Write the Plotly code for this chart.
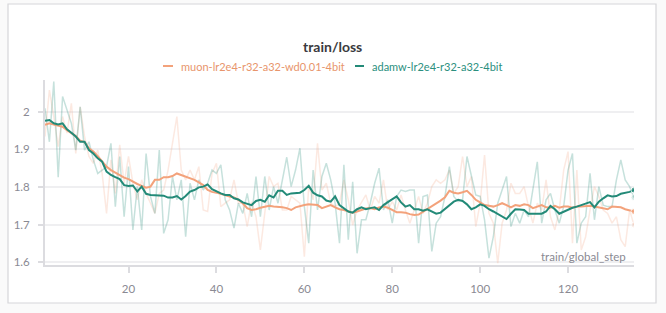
import plotly.graph_objects as go

steps = list(range(1, 136))

muon_raw = [1.934, 2.057, 1.987, 1.907, 1.987, 1.943, 2.022, 1.889, 2.013, 1.934,
            1.881, 1.863, 1.898, 1.836, 1.730, 1.872, 1.783, 1.912, 1.810, 1.881,
            1.810, 1.766, 1.819, 1.783, 1.757, 1.730, 1.783, 1.792, 1.845, 1.916,
            1.987, 1.845, 1.819, 1.845, 1.819, 1.854, 1.739, 1.735, 1.836, 1.863,
            1.748, 1.757, 1.766, 1.819, 1.757, 1.757, 1.695, 1.761, 1.721, 1.633,
            1.730, 1.828, 1.801, 1.810, 1.739, 1.739, 1.775, 1.766, 1.757, 1.615,
            1.801, 1.766, 1.916, 1.792, 1.810, 1.757, 1.748, 1.757, 1.819, 1.766,
            1.699, 1.739, 1.761, 1.779, 1.739, 1.775, 1.757, 1.819, 1.739, 1.761,
            1.739, 1.779, 1.739, 1.704, 1.739, 1.775, 1.730, 1.757, 1.801, 1.819,
            1.810, 1.819, 1.845, 1.783, 1.801, 1.881, 1.801, 1.828, 1.695, 1.757,
            1.885, 1.730, 1.704, 1.598, 1.704, 1.739, 1.810, 1.783, 1.783, 1.801,
            1.748, 1.704, 1.757, 1.739, 1.819, 1.721, 1.686, 1.739, 1.845, 1.894,
            1.651, 1.845, 1.633, 1.668, 1.739, 1.801, 1.775, 1.739, 1.730, 1.704,
            1.721, 1.660, 1.642, 1.739, 1.699]

adamw_raw = [2.009, 1.920, 2.080, 1.826, 2.040, 2.004, 1.969, 1.898, 2.013, 1.898,
             1.920, 1.872, 1.836, 1.845, 1.854, 1.916, 1.748, 1.881, 1.721, 1.854,
             1.686, 1.801, 1.686, 1.889, 1.775, 1.730, 1.898, 1.677, 1.713, 1.828,
             1.766, 1.819, 1.668, 1.810, 1.766, 1.819, 1.792, 1.810, 1.845, 1.836,
             1.859, 1.766, 1.739, 1.691, 1.757, 1.730, 1.783, 1.721, 1.828, 1.721,
             1.828, 1.739, 1.801, 1.757, 1.819, 1.879, 1.801, 1.845, 1.903, 1.748,
             1.651, 1.845, 1.739, 1.828, 1.863, 1.819, 1.757, 1.651, 1.859, 1.660,
             1.814, 1.624, 1.713, 1.713, 1.757, 1.810, 1.850, 1.739, 1.766, 1.704,
             1.775, 1.792, 1.788, 1.792, 1.792, 1.651, 1.775, 1.779, 1.629, 1.704,
             1.721, 1.775, 1.854, 1.775, 1.761, 1.766, 1.881, 1.828, 1.779, 1.775,
             1.713, 1.611, 1.668, 1.757, 1.792, 1.828, 1.695, 1.730, 1.704, 1.739,
             1.721, 1.792, 1.867, 1.704, 1.766, 1.783, 1.739, 1.704, 1.748, 1.845,
             1.889, 1.651, 1.704, 1.721, 1.836, 1.713, 1.801, 1.752, 1.748, 1.748,
             1.819, 1.872, 1.819, 1.801, 1.772]

muon_smooth = [1.965, 1.969, 1.966, 1.962, 1.960, 1.951, 1.943, 1.935, 1.923, 1.919,
               1.903, 1.894, 1.882, 1.867, 1.854, 1.845, 1.838, 1.832, 1.825, 1.821,
               1.814, 1.808, 1.803, 1.798, 1.801, 1.819, 1.819, 1.826, 1.826, 1.829,
               1.836, 1.832, 1.828, 1.823, 1.819, 1.812, 1.805, 1.792, 1.787, 1.785,
               1.781, 1.779, 1.775, 1.772, 1.766, 1.757, 1.744, 1.739, 1.741, 1.745,
               1.748, 1.750, 1.748, 1.748, 1.746, 1.744, 1.739, 1.746, 1.750, 1.752,
               1.754, 1.754, 1.752, 1.744, 1.748, 1.752, 1.746, 1.741, 1.739, 1.735,
               1.732, 1.735, 1.739, 1.743, 1.744, 1.741, 1.746, 1.748, 1.745, 1.739,
               1.733, 1.733, 1.732, 1.728, 1.726, 1.727, 1.734, 1.741, 1.748, 1.755,
               1.764, 1.773, 1.790, 1.785, 1.783, 1.786, 1.790, 1.779, 1.766, 1.759,
               1.752, 1.750, 1.748, 1.752, 1.757, 1.752, 1.746, 1.752, 1.750, 1.754,
               1.752, 1.744, 1.748, 1.752, 1.746, 1.745, 1.750, 1.745, 1.748, 1.748,
               1.745, 1.748, 1.748, 1.750, 1.750, 1.748, 1.746, 1.743, 1.741, 1.748,
               1.748, 1.746, 1.741, 1.739, 1.735]

adamw_smooth = [1.976, 1.978, 1.969, 1.966, 1.969, 1.953, 1.944, 1.934, 1.920, 1.920,
                1.898, 1.889, 1.876, 1.867, 1.841, 1.832, 1.826, 1.821, 1.805, 1.803,
                1.804, 1.788, 1.801, 1.782, 1.779, 1.778, 1.778, 1.777, 1.772, 1.772,
                1.776, 1.767, 1.776, 1.788, 1.792, 1.799, 1.801, 1.807, 1.794, 1.788,
                1.783, 1.779, 1.779, 1.770, 1.767, 1.759, 1.755, 1.752, 1.763, 1.766,
                1.761, 1.778, 1.772, 1.790, 1.790, 1.779, 1.783, 1.785, 1.785, 1.792,
                1.803, 1.785, 1.778, 1.775, 1.764, 1.761, 1.775, 1.752, 1.744, 1.735,
                1.732, 1.741, 1.746, 1.741, 1.744, 1.746, 1.739, 1.752, 1.760, 1.768,
                1.775, 1.759, 1.748, 1.752, 1.741, 1.741, 1.737, 1.741, 1.735, 1.729,
                1.732, 1.741, 1.752, 1.761, 1.766, 1.763, 1.754, 1.741, 1.746, 1.754,
                1.750, 1.741, 1.735, 1.729, 1.721, 1.715, 1.729, 1.741, 1.740, 1.739,
                1.729, 1.728, 1.729, 1.729, 1.735, 1.750, 1.741, 1.729, 1.735, 1.741,
                1.745, 1.748, 1.752, 1.757, 1.760, 1.746, 1.761, 1.770, 1.778, 1.775,
                1.776, 1.782, 1.784, 1.787, 1.792]

series_names = ["muon-lr2e4-r32-a32-wd0.01-4bit", "adamw-lr2e4-r32-a32-4bit"]
x_ticks = [20, 40, 60, 80, 100, 120]
y_ticks = [1.6, 1.7, 1.8, 1.9, 2.0]
y_tick_text = ["1.6", "1.7", "1.8", "1.9", "2"]

ORANGE = "#f3a27b"
ORANGE_FAINT = "rgba(245,170,140,0.26)"
TEAL = "#238a78"
TEAL_FAINT = "rgba(35,138,120,0.26)"
FONT = "Lato, 'Source Sans Pro', 'Noto Sans', sans-serif"

fig = go.Figure()
fig.add_trace(go.Scatter(x=steps, y=muon_raw, mode="lines+markers",
                         line=dict(color=ORANGE_FAINT, width=1.5),
                         marker=dict(size=[0]*(len(steps)-1)+[6], color=ORANGE_FAINT),
                         showlegend=False, hoverinfo="skip"))
fig.add_trace(go.Scatter(x=steps, y=adamw_raw, mode="lines+markers",
                         line=dict(color=TEAL_FAINT, width=1.5),
                         marker=dict(size=[0]*(len(steps)-1)+[6], color=TEAL_FAINT),
                         showlegend=False, hoverinfo="skip"))
fig.add_trace(go.Scatter(x=steps, y=muon_smooth, mode="lines+markers", name=series_names[0],
                         line=dict(color=ORANGE, width=2),
                         marker=dict(size=[0]*(len(steps)-1)+[6], color=ORANGE),
                         showlegend=False))
fig.add_trace(go.Scatter(x=steps, y=adamw_smooth, mode="lines+markers", name=series_names[1],
                         line=dict(color=TEAL, width=2),
                         marker=dict(size=[0]*(len(steps)-1)+[6], color=TEAL),
                         showlegend=False))

# geometry helpers (plot area: px 45..634, py 80..265)
L, R, T, B = 45, 32, 80, 48
W, H = 666, 313
PW, PH = W - L - R, H - T - B
def px(x):
    return (x - L) / PW
def py(y):
    return (T + PH - y) / PH

shapes = [
    dict(type="rect", xref="paper", yref="paper", x0=px(8), x1=px(656), y0=py(303), y1=py(4),
         line=dict(color="#d6d6d9", width=1.2), fillcolor="white", layer="below"),
    dict(type="line", xref="paper", yref="paper", x0=px(163), x1=px(173), y0=py(66), y1=py(66),
         line=dict(color=ORANGE, width=2)),
    dict(type="line", xref="paper", yref="paper", x0=px(355), x1=px(364), y0=py(66), y1=py(66),
         line=dict(color=TEAL, width=2)),
]

annotations = [
    dict(text="<b>train/loss</b>", xref="paper", yref="paper", x=px(332.5), y=py(46),
         xanchor="center", yanchor="middle", showarrow=False,
         font=dict(family=FONT, size=14, color="#3a3a40")),
    dict(text=series_names[0], xref="paper", yref="paper", x=px(179), y=py(66),
         xanchor="left", yanchor="middle", showarrow=False,
         font=dict(family=FONT, size=11, color="#e8956c")),
    dict(text=series_names[1], xref="paper", yref="paper", x=px(370), y=py(66),
         xanchor="left", yanchor="middle", showarrow=False,
         font=dict(family=FONT, size=11, color="#2b8f7e")),
    dict(text="train/global_step", xref="paper", yref="paper", x=px(628), y=py(256),
         xanchor="right", yanchor="middle", showarrow=False,
         font=dict(family=FONT, size=11.5, color="#8a8a93")),
]

fig.update_layout(
    width=W, height=H,
    margin=dict(l=L, r=R, t=T, b=B, pad=0),
    paper_bgcolor="#fafafa", plot_bgcolor="white",
    showlegend=False,
    shapes=shapes, annotations=annotations,
    font=dict(family=FONT, size=11.5, color="#8a8a93"),
    xaxis=dict(range=[1, 135], tickvals=x_ticks, showgrid=False, zeroline=False,
               showline=True, linecolor="#dcdce0", linewidth=2,
               ticks="outside", ticklen=6, tickcolor="#dcdce0", tickwidth=1.5,
               ticklabelstandoff=6,
               tickfont=dict(family=FONT, size=11.5, color="#8a8a93")),
    yaxis=dict(range=[1.593, 2.084], tickvals=y_ticks, ticktext=y_tick_text,
               showgrid=True, gridcolor="#efeff1", gridwidth=1.5, zeroline=False,
               showline=True, linecolor="#dcdce0", linewidth=2,
               ticks="outside", ticklen=5, tickcolor="#dcdce0", tickwidth=1.5,
               ticklabelstandoff=6,
               tickfont=dict(family=FONT, size=11.5, color="#8a8a93")),
)

fig.write_html("out.html")
